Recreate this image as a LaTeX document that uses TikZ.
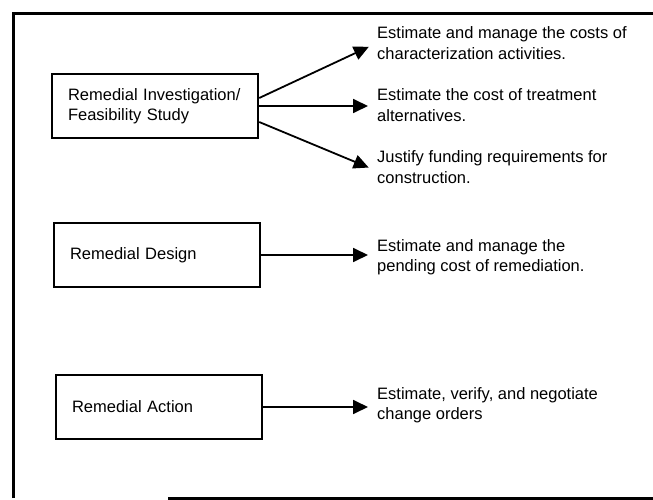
\documentclass[tikz,border=0pt]{standalone}
\usepackage{fontspec}
\setmainfont{Liberation Sans}
\usetikzlibrary{arrows.meta}
\begin{document}
\begin{tikzpicture}
  [
    x=1pt, y=-1pt,
    every node/.style={font=\fontsize{16.5}{20.5}\selectfont},
    phase/.style={draw=black, line width=2.4pt, text width=174pt,
    inner xsep=16pt, minimum height=64pt, align=left},
    task/.style={anchor=west, inner sep=0pt, align=left},
    ld/.style={line width=1.8pt, -{Triangle[length=15pt,width=14pt]}, shorten >=9pt}
  ]
  \useasboundingbox (0,0) rectangle (653,500);
  \draw [line width=3pt] (168,498) -- (653,498);
  \draw [line width=3pt] (13,498) -- (13,14) -- (653,14);

  \node (rifs) at (155,106) [phase] {Remedial Investigation/\\Feasibility Study};
  \node (rd)   at (157,255) [phase] {Remedial Design};
  \node (ra)   at (159,407) [phase] {Remedial Action};

  \node (t1) at (377,43)  [task] {Estimate and manage the costs of\\characterization activities.};
  \node (t2) at (377,105) [task] {Estimate the cost of treatment\\alternatives.};
  \node (t3) at (377,167) [task] {Justify funding requirements for\\construction.};
  \node (t4) at (377,257) [task] {Estimate and manage the\\pending cost of remediation.};
  \node (t5) at (377,405) [task] {Estimate, verify, and negotiate\\change orders};

  \draw [ld] ([yshift=8pt]rifs.east) -- (t1.west);
  \draw [ld] (rifs.east) -- (rifs.east -| t2.west);
  \draw [ld] ([yshift=-16pt]rifs.east) -- ([yshift=-4pt]t3.west);
  \draw [ld] (rd.east) -- (rd.east -| t4.west);
  \draw [ld] (ra.east) -- (ra.east -| t5.west);
\end{tikzpicture}
\end{document}
